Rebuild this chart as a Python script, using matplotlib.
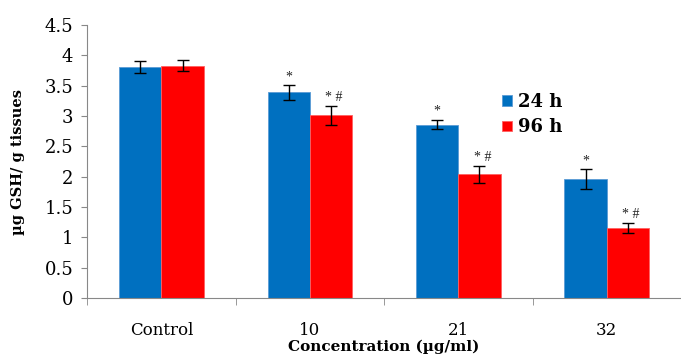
import matplotlib.pyplot as plt
import numpy as np

categories = ['Control', '10', '21', '32']
h24 = [3.81, 3.39, 2.86, 1.96]
h24_err = [0.10, 0.12, 0.08, 0.16]
h96 = [3.83, 3.01, 2.04, 1.16]
h96_err = [0.09, 0.16, 0.14, 0.08]
h24_marks = ['', '*', '*', '*']
h96_marks = ['', '* #', '* #', '* #']

serif = ['DejaVu Serif']
plt.rcParams['font.family'] = serif

fig = plt.figure(figsize=(6.81, 3.63), dpi=100)
ax = fig.add_axes([0.128, 0.179, 0.872, 0.752])

x = np.arange(len(categories))
w = 0.285
ax.bar(x - w / 2, h24, w, color='#0070C0', edgecolor='#5B9BD5', linewidth=0.6,
       yerr=h24_err, capsize=4, error_kw=dict(elinewidth=1, ecolor='black', capthick=1),
       label='24 h')
ax.bar(x + w / 2, h96, w, color='#FF0000', edgecolor='#FF6060', linewidth=0.6,
       yerr=h96_err, capsize=4, error_kw=dict(elinewidth=1, ecolor='black', capthick=1),
       label='96 h')

for i in range(len(categories)):
    if h24_marks[i]:
        ax.text(x[i] - w / 2, h24[i] + h24_err[i] + 0.03, h24_marks[i],
                ha='center', va='bottom', fontsize=10, color='#222222',
                family='Liberation Serif')
    if h96_marks[i]:
        ax.text(x[i] + w / 2 + 0.02, h96[i] + h96_err[i] + 0.03, h96_marks[i],
                ha='center', va='bottom', fontsize=10, color='#222222',
                family='Liberation Serif')

ax.set_xlim(-0.5, len(categories) - 0.5)
ax.set_ylim(0, 4.5)
ax.set_yticks(np.arange(0, 4.51, 0.5))
ax.set_yticklabels(['0', '0.5', '1', '1.5', '2', '2.5', '3', '3.5', '4', '4.5'])
ax.set_xticks(x)
ax.set_xticklabels(categories)
ax.set_xticks(np.arange(-0.5, len(categories), 1.0), minor=True)
ax.tick_params(axis='x', which='major', length=0, labelsize=12, pad=17)
ax.tick_params(axis='x', which='minor', length=5, color='#888888')
ax.tick_params(axis='y', length=4, color='#888888', labelsize=13, pad=6)

for s in ['top', 'right']:
    ax.spines[s].set_visible(False)
for s in ['left', 'bottom']:
    ax.spines[s].set_color('#888888')

ax.set_xlabel('Concentration (µg/ml)', fontsize=11, fontweight='bold', labelpad=1)
ax.set_ylabel('µg GSH/ g tissues', fontsize=10.5, fontweight='bold', labelpad=14)

ax.legend(loc='upper left', bbox_to_anchor=(0.672, 0.81), frameon=False,
          prop=dict(family=serif, weight='bold', size=13),
          handlelength=0.55, handleheight=0.55, handletextpad=0.3, labelspacing=0.4)

fig.savefig('out.png', dpi=100)
